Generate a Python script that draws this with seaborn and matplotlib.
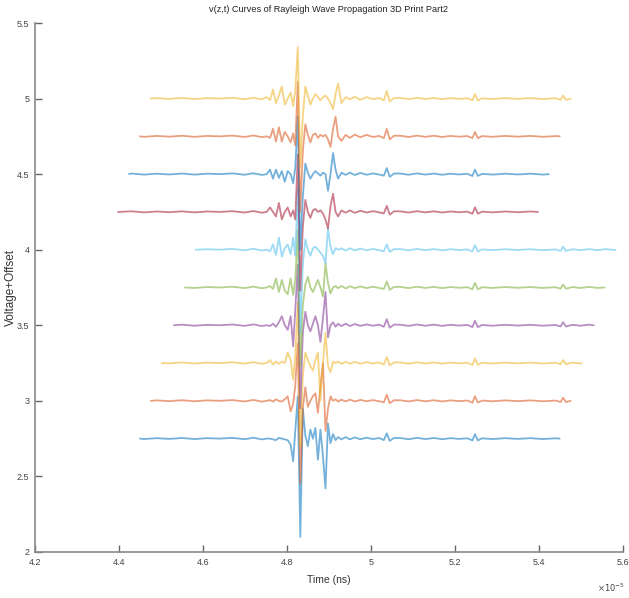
import numpy as np
import pandas as pd
import matplotlib
matplotlib.use("Agg")
import matplotlib.pyplot as plt
import seaborn as sns
from matplotlib.ticker import FormatStrFormatter

# ---------------- data (time in units of 1e-5 s) ----------------
offsets = [2.75, 3.0, 3.25, 3.5, 3.75, 4.0, 4.25, 4.5, 4.75, 5.0]
start_t = [4.450, 4.476, 4.502, 4.531, 4.557, 4.583, 4.398, 4.424, 4.450, 4.476]
end_t = [5.450, 5.476, 5.502, 5.531, 5.557, 5.583, 5.398, 5.424, 5.450, 5.476]
colors = ["#0072BD", "#D95319", "#EDB120", "#7E2F8E", "#77AC30",
          "#4DBEEE", "#A2142F", "#0072BD", "#D95319", "#EDB120"]

head_t = [4.40, 4.43, 4.46, 4.49, 4.52, 4.55, 4.58, 4.61, 4.64, 4.67, 4.70, 4.72, 4.74]
head_v = [0.0, 0.004, -0.003, 0.003, -0.002, 0.004, -0.003, 0.003, 0.0, 0.005, -0.004, 0.006, -0.005]

pulse_t = [4.752, 4.760, 4.767, 4.774, 4.781, 4.788, 4.795, 4.802, 4.809, 4.815,
           4.820, 4.826, 4.832, 4.838, 4.844, 4.850, 4.856, 4.862, 4.868, 4.874,
           4.880, 4.886, 4.892, 4.898, 4.904, 4.910, 4.916, 4.922, 4.930, 4.940,
           4.950, 4.962, 4.975, 4.990, 5.005, 5.020, 5.031, 5.038, 5.045, 5.055]

pulse_v = [
    # 2.75 blue
    [0.0, 0.0, -0.005, -0.01, 0.005, 0.0, -0.005, -0.01, -0.04, -0.15,
     0.05, 0.28, -0.65, 0.2, 0.02, -0.05, 0.06, 0.0, 0.07, -0.14,
     0.06, -0.12, -0.33, 0.1, -0.03, 0.03, -0.01, 0.01, -0.005, 0.01,
     -0.005, 0.008, -0.004, 0.006, -0.003, 0.004, -0.01, 0.035, -0.015, 0.004],
    # 3.0 orange
    [0.0, 0.005, -0.005, 0.01, 0.0, -0.005, 0.01, 0.03, -0.07, -0.02,
     0.1, 0.38, -0.55, -0.05, 0.09, -0.04, 0.0, 0.03, 0.05, -0.08,
     0.1, 0.25, -0.2, -0.05, 0.03, 0.0, 0.01, -0.005, 0.008, -0.004,
     0.008, -0.004, 0.006, -0.003, 0.005, -0.003, -0.01, 0.04, -0.016, 0.004],
    # 3.25 yellow
    [0.0, 0.02, -0.01, 0.01, -0.005, 0.01, 0.0, 0.07, 0.02, -0.11,
     0.05, 0.4, -0.55, -0.08, 0.07, 0.02, -0.02, -0.05, 0.02, 0.07,
     -0.25, 0.0, 0.2, -0.02, -0.06, 0.01, 0.0, 0.01, -0.005, 0.008,
     -0.004, 0.008, -0.004, 0.006, -0.003, 0.004, -0.01, 0.04, -0.016, 0.004],
    # 3.5 purple
    [0.0, -0.005, 0.01, -0.01, 0.02, 0.06, 0.0, -0.03, 0.06, -0.14,
     0.1, 0.4, -0.55, -0.05, 0.09, 0.0, -0.04, 0.01, 0.06, 0.0,
     -0.11, 0.05, 0.22, -0.08, 0.0, 0.02, -0.01, 0.01, -0.005, 0.01,
     -0.005, 0.008, -0.004, 0.006, -0.003, 0.004, -0.01, 0.04, -0.016, 0.004],
    # 3.75 green
    [0.0, 0.01, -0.01, 0.06, -0.03, 0.05, -0.02, -0.045, 0.06, -0.05,
     0.05, 0.38, -0.52, -0.12, 0.02, 0.07, 0.0, -0.03, 0.01, 0.05,
     0.0, -0.06, 0.16, 0.03, -0.04, 0.0, 0.01, -0.005, 0.01, -0.006,
     0.008, -0.004, 0.007, -0.004, 0.005, -0.003, -0.01, 0.04, -0.016, 0.004],
    # 4.0 light blue
    [0.0, -0.01, 0.035, -0.035, 0.08, -0.045, 0.01, 0.035, -0.03, 0.08,
     -0.04, 0.4, -0.55, -0.1, 0.07, 0.0, -0.04, 0.01, 0.02, 0.0,
     -0.02, -0.04, -0.09, 0.14, 0.02, -0.03, 0.01, 0.0, 0.01, -0.006,
     0.01, -0.005, 0.008, -0.004, 0.005, -0.003, -0.01, 0.035, -0.015, 0.004],
    # 4.25 dark red
    [0.0, 0.03, 0.0, -0.03, 0.06, -0.05, 0.0, 0.03, -0.03, 0.01,
     -0.05, 0.38, -0.52, -0.1, 0.08, 0.0, -0.04, 0.01, 0.02, 0.0,
     0.01, -0.01, -0.05, -0.11, 0.04, 0.12, 0.0, -0.03, 0.01, -0.005,
     0.01, -0.006, 0.008, -0.004, 0.005, -0.003, -0.01, 0.04, -0.018, 0.004],
    # 4.5 blue
    [0.0, 0.03, -0.03, 0.03, -0.025, 0.02, -0.05, 0.02, 0.0, -0.06,
     0.04, 0.38, -0.5, -0.15, 0.07, 0.01, -0.03, 0.0, 0.02, 0.005,
     -0.01, 0.01, 0.0, -0.11, 0.0, 0.14, 0.03, -0.03, 0.01, -0.005,
     0.01, -0.006, 0.008, -0.004, 0.005, -0.003, -0.01, 0.04, -0.018, 0.004],
    # 4.75 orange
    [0.0, -0.01, 0.05, -0.035, 0.06, -0.035, 0.03, 0.0, -0.04, 0.02,
     -0.06, 0.36, -0.5, -0.1, 0.08, 0.01, -0.04, 0.01, 0.02, -0.01,
     0.01, 0.0, 0.01, -0.02, -0.07, 0.05, 0.13, 0.0, -0.03, 0.01,
     -0.01, 0.012, -0.006, 0.01, -0.004, 0.003, -0.012, 0.05, -0.02, 0.004],
    # 5.0 yellow
    [0.01, -0.01, 0.06, -0.03, 0.02, 0.08, -0.04, 0.0, 0.04, -0.05,
     0.05, 0.34, -0.45, -0.12, 0.08, 0.02, -0.04, 0.0, 0.03, 0.01,
     -0.01, 0.01, 0.02, 0.0, -0.03, -0.07, 0.03, 0.10, -0.03, 0.01,
     -0.005, 0.012, -0.008, 0.01, -0.004, 0.004, -0.012, 0.05, -0.02, 0.004],
]

tail_t = [5.07, 5.09, 5.11, 5.13, 5.15, 5.17, 5.19, 5.21, 5.23, 5.242, 5.248, 5.255, 5.265,
          5.29, 5.32, 5.35, 5.38, 5.41, 5.44, 5.452, 5.458, 5.465, 5.48, 5.50, 5.52, 5.54,
          5.56, 5.58]
tail_v = [0.004, -0.004, 0.005, -0.003, 0.004, -0.004, 0.003, -0.002, 0.002, -0.012, 0.03,
          -0.012, 0.002, -0.003, 0.003, -0.002, 0.003, -0.003, 0.002, -0.008, 0.02, -0.008,
          0.003, -0.003, 0.004, -0.003, 0.004, -0.002]

# ---------------- build long table ----------------
rows = []
for i, off in enumerate(offsets):
    ts = head_t + pulse_t + tail_t
    vs = head_v + pulse_v[i] + tail_v
    pts = [(start_t[i], 0.0)]
    pts += [(t, v) for t, v in zip(ts, vs) if start_t[i] < t < end_t[i]]
    pts.append((end_t[i], 0.0))
    for k, (t, v) in enumerate(pts):
        rows.append({"trace": i, "order": k, "t": t, "y": v + off})
df = pd.DataFrame(rows)

# ---------------- plot ----------------
sns.set_theme(style="white")
plt.rcParams["font.family"] = ["Liberation Sans Narrow", "Liberation Sans", "DejaVu Sans"]

fig = plt.figure(figsize=(6.29, 5.98), dpi=100)
ax = fig.add_axes([0.0556, 0.077, 0.9344, 0.8845])

palette = {i: c for i, c in enumerate(colors)}
sns.lineplot(data=df, x="t", y="y", hue="trace", palette=palette, sort=False,
             estimator=None, units="trace", legend=False, linewidth=1.3,
             alpha=0.55, ax=ax, solid_joinstyle="round", solid_capstyle="round")

ax.set_xlim(4.2, 5.6)
ax.set_ylim(2.0, 5.5)
ax.set_xticks([4.2, 4.4, 4.6, 4.8, 5.0, 5.2, 5.4, 5.6])
ax.set_yticks([2.0, 2.5, 3.0, 3.5, 4.0, 4.5, 5.0, 5.5])
ax.xaxis.set_major_formatter(FormatStrFormatter("%g"))
ax.yaxis.set_major_formatter(FormatStrFormatter("%g"))

for s in ["top", "right"]:
    ax.spines[s].set_visible(False)
for s in ["left", "bottom"]:
    ax.spines[s].set_color("#8a8a8a")
    ax.spines[s].set_linewidth(1.2)
ax.tick_params(direction="in", length=5, width=1.0, color="#666666",
               labelsize=6.5, labelcolor="#444444", pad=4, bottom=True, left=True)

ax.set_xlabel("Time (ns)", fontsize=7.5, color="#333333", labelpad=6)
ax.set_ylabel("Voltage+Offset", fontsize=8.5, color="#333333")
ax.yaxis.set_label_coords(-0.03, 0.5)
ax.set_title("v(z,t) Curves of Rayleigh Wave Propagation 3D Print Part2",
             fontsize=6.6, color="#222222", pad=8)
fig.text(0.972, 0.006, r"$\times10^{-5}$", fontsize=6, color="#444444",
         ha="center", va="bottom")

fig.savefig("out.png", dpi=100)
